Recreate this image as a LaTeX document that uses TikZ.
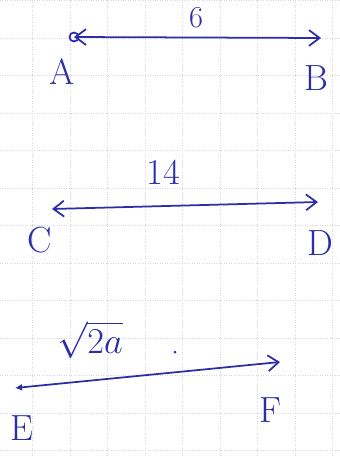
\documentclass[tikz,border=0pt]{standalone}
\usetikzlibrary{arrows.meta}
\definecolor{penblue}{RGB}{45,45,165}
\definecolor{gridgray}{RGB}{215,215,225}
\begin{document}
\begin{tikzpicture}[
    x=0.02cm, y=-0.02cm,
    gridline/.style={gridgray, densely dotted, line width=0.4pt},
    seg/.style={penblue, line width=1pt, line cap=round,
                {Straight Barb[length=6pt, width=9pt]}-{Straight Barb[length=6pt, width=9pt]}},
    ray/.style={penblue, line width=1pt, line cap=round,
                {Latex[length=4pt, width=4pt]}-{Straight Barb[length=6pt, width=9pt]}},
    lbl/.style={penblue, font=\huge},
    len/.style={penblue, font=\LARGE}
]
\useasboundingbox (0,0) rectangle (340,457);
\fill[white] (0,0) rectangle (340,457);
\foreach \gx in {32.5,70,...,340} \draw[gridline] (\gx,0) -- (\gx,457);
\foreach \gy in {0.5,38,...,457} \draw[gridline] (0,\gy) -- (340,\gy);

% first segment
\coordinate (pA) at (74,37);
\coordinate (pB) at (321,38);
\node[lbl] (A) at (62,72) {A};
\node[lbl] (B) at (316,78) {B};
\node[len] (ab) at (196,18) {6};
\draw[penblue, line width=1pt] (pA) circle (4.5);
\draw[seg] (pA) -- (pB);

% second segment
\coordinate (pC) at (52,209);
\coordinate (pD) at (318,202);
\node[lbl] (C) at (40,240) {C};
\node[lbl] (D) at (320,243) {D};
\node[lbl] (cd) at (163,172) {14};
\draw[seg] (pC) -- (pD);

% third segment
\coordinate (pE) at (15,388);
\coordinate (pF) at (280,362);
\node[lbl] (E) at (22,428) {E};
\node[lbl] (F) at (270,410) {F};
\node[lbl] (ef) at (90,340) {$\sqrt{2a}$};
\fill[penblue] (175,352) circle (1.5);
\draw[ray] (pE) -- (pF);
\end{tikzpicture}
\end{document}
